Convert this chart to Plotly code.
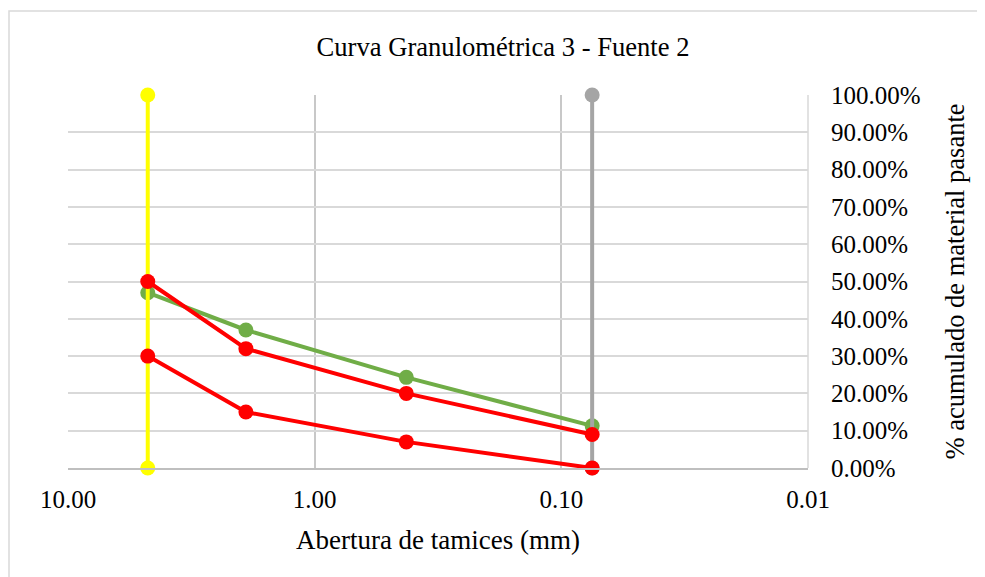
import plotly.graph_objects as go

# Data
sieve_mm = [4.75, 1.9, 0.425, 0.075]
pasante = [0.47, 0.37, 0.243, 0.113]
limite_superior = [0.50, 0.32, 0.20, 0.09]
limite_inferior = [0.30, 0.15, 0.07, 0.00]
linea_amarilla_x = [4.75, 4.75]
linea_gris_x = [0.075, 0.075]
linea_y = [0.0, 1.0]
x_tickvals = [10, 1, 0.1, 0.01]
x_ticktext = ["10.00", "1.00", "0.10", "0.01"]

FONT = "Liberation Serif"
LW = 4
MS = 15

fig = go.Figure()

def add(x, y, color):
    fig.add_trace(go.Scatter(
        x=x, y=y, mode="lines+markers",
        line=dict(color=color, width=LW),
        marker=dict(color=color, size=MS),
        cliponaxis=False, showlegend=False, hoverinfo="x+y"))

add(sieve_mm, pasante, "#70ad47")
add(linea_amarilla_x, linea_y, "#ffff00")
add(linea_gris_x, linea_y, "#a5a5a5")
add(sieve_mm, limite_superior, "#ff0000")
add(sieve_mm, limite_inferior, "#ff0000")

# page body has an 8px margin; lay out in shifted coordinates
OFF = 8
W, H = 985 - OFF, 577 - OFF
L, R, T, B = 68 - OFF, 808 - OFF, 95 - OFF, 468 - OFF
pw, ph = R - L, B - T

fig.update_layout(
    width=W, height=H,
    margin=dict(l=L, r=W - R, t=T, b=H - B, autoexpand=False),
    paper_bgcolor="white", plot_bgcolor="white",
    font=dict(family=FONT, size=25, color="black"),
    title=dict(text="Curva Granulométrica 3 - Fuente 2",
               font=dict(family=FONT, size=26.6, color="black"),
               x=(503 - OFF) / W, xref="container", xanchor="center",
               y=1 - (47 - OFF) / H, yref="container", yanchor="middle"),
    xaxis=dict(type="log", range=[1, -2],
               tickvals=x_tickvals, ticktext=x_ticktext,
               showgrid=True, gridcolor="#c8c8c8", gridwidth=1.5,
               showline=True, linecolor="#bfbfbf", linewidth=2,
               zeroline=False, ticks="", ticklabelstandoff=8,
               tickfont=dict(family=FONT, size=25),
               title=dict(text="Abertura de tamices (mm)",
                          font=dict(family=FONT, size=27), standoff=18)),
    yaxis=dict(side="right", range=[0, 1], dtick=0.1, tick0=0,
               tickformat=".2%",
               showgrid=True, gridcolor="#d9d9d9", gridwidth=1.5,
               zeroline=False, showline=False, ticks="",
               ticklabelstandoff=22,
               tickfont=dict(family=FONT, size=25),
               title=dict(text="% acumulado de material pasante",
                          font=dict(family=FONT, size=26.5), standoff=25)),
)

# outer chart border
fig.add_shape(type="rect", xref="paper", yref="paper",
              x0=(9 - OFF - L) / pw, x1=(W + 20 - L) / pw,
              y0=(B - (H + 20)) / ph, y1=(B - (11 - OFF)) / ph,
              line=dict(color="#d9d9d9", width=1.5), layer="below")
# right plot edge
fig.add_shape(type="line", xref="paper", yref="paper", x0=1, x1=1, y0=0, y1=1,
              line=dict(color="#d9d9d9", width=1.5), layer="below")

fig.write_html("out.html")
